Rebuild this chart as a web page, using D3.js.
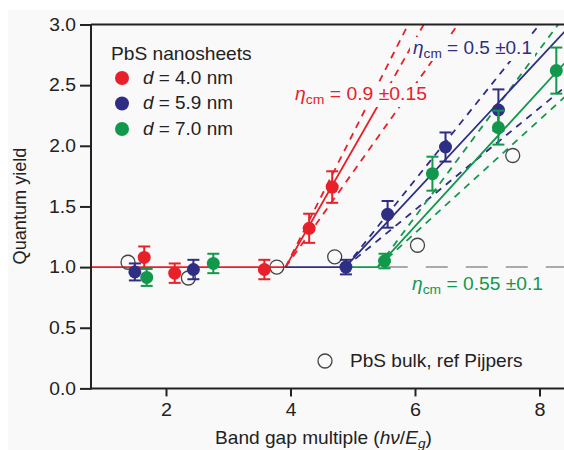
<!DOCTYPE html>
<html><head><meta charset="utf-8">
<script src="https://cdn.jsdelivr.net/npm/d3@7"></script>
<style>
html,body{margin:0;padding:0;background:#fff;}
svg text{font-family:"Liberation Sans",Arial,Helvetica,sans-serif;}
</style></head>
<body><svg id="c" width="564" height="450"></svg>
<script>
// ---- data ----
const xTicks = [2, 4, 6, 8];
const yTicks = [0.0, 0.5, 1.0, 1.5, 2.0, 2.5, 3.0];
const seriesNames = ["d = 4.0 nm", "d = 5.9 nm", "d = 7.0 nm"];
// [band gap multiple, quantum yield, error]
const red4 = [[1.65,1.08,0.09],[2.14,0.95,0.08],[3.58,0.98,0.08],[4.30,1.32,0.12],[4.67,1.66,0.13]];
const blue59 = [[1.50,0.96,0.07],[2.44,0.98,0.08],[4.89,1.00,0.06],[5.56,1.435,0.11],[6.49,1.99,0.12],[7.34,2.295,0.17]];
const green70 = [[1.69,0.915,0.07],[2.76,1.03,0.08],[5.51,1.05,0.06],[6.28,1.77,0.14],[7.34,2.15,0.14],[8.27,2.62,0.19]];
const bulkPijpers = [[1.39,1.04],[2.36,0.91],[3.78,1.00],[4.71,1.085],[6.04,1.18],[7.57,1.92]];
// fit lines (solid) and uncertainty bounds (dashed)
const redFit = [[0.8,1],[3.92,1],[5.47,2.39]];
const blueFit = [[3.92,1],[4.88,1],[8.4,2.94]];
const greenFit = [[4.88,1],[5.40,1],[8.4,2.68]];
const redBounds = [[[3.92,1],[5.89,3.0]], [[3.92,1],[6.69,3.0]], [[5.47,2.39],[6.14,3.0]]];
const blueBounds = [[[4.88,1],[8.0,3.0]], [[4.88,1],[8.4,2.48]]];
const greenBounds = [[[5.40,1],[8.3,3.0]], [[5.40,1],[8.4,2.40]]];
const unityLine = [[5.53,1],[8.4,1]];
const etaLabels = [["0.9","0.15"],["0.5","0.1"],["0.55","0.1"]];

const colors = ["#e8202a", "#2e2e85", "#12984c"];
const FS = "17.5px";
const BG = "#f9f9f9";

const svg = d3.select("#c");
svg.append("rect").attr("x",8).attr("y",10).attr("width",556).attr("height",440).attr("fill",BG);

const x = d3.scaleLinear().domain([0.8, 8.4]).range([91.3, 564.4]);
const y = d3.scaleLinear().domain([0, 3]).range([388.4, 24.5]);
const line = d3.line().x(d=>x(d[0])).y(d=>y(d[1]));

function stretch(sel, target, ax){
  const w = sel.node().getBBox().width;
  const s = target / w;
  sel.attr("transform", `translate(${ax},0) scale(${s},1) translate(${-ax},0)`);
}

const plot = svg.append("g");
svg.append("clipPath").attr("id","clip").append("rect").attr("x",91).attr("y",24.5).attr("width",474).attr("height",364);
const lines = plot.append("g").attr("clip-path","url(#clip)");

lines.append("path").attr("d", line(unityLine)).attr("fill","none").attr("stroke","#aaaaaa").attr("stroke-width",2).attr("stroke-dasharray","22,18");

const fits = [redFit, blueFit, greenFit];
const bounds = [redBounds, blueBounds, greenBounds];
bounds.forEach((b,i)=>{
  b.forEach(seg=>{
    lines.append("path").attr("d", line(seg)).attr("fill","none").attr("stroke",colors[i]).attr("stroke-width",1.8).attr("stroke-dasharray","7,6");
  });
});
fits.forEach((f,i)=>{
  lines.append("path").attr("d", line(f)).attr("fill","none").attr("stroke",colors[i]).attr("stroke-width",1.8);
});

plot.selectAll("circle.bulk").data(bulkPijpers).enter().append("circle")
  .attr("cx",d=>x(d[0])).attr("cy",d=>y(d[1])).attr("r",7)
  .attr("fill","none").attr("stroke","#444").attr("stroke-width",1.3);

[red4, blue59, green70].forEach((data,i)=>{
  const g = plot.append("g");
  data.forEach(d=>{
    const cx = x(d[0]), t = y(d[1]+d[2]), b = y(d[1]-d[2]);
    g.append("line").attr("x1",cx).attr("x2",cx).attr("y1",t).attr("y2",b).attr("stroke",colors[i]).attr("stroke-width",2);
    g.append("line").attr("x1",cx-6).attr("x2",cx+6).attr("y1",t).attr("y2",t).attr("stroke",colors[i]).attr("stroke-width",2);
    g.append("line").attr("x1",cx-6).attr("x2",cx+6).attr("y1",b).attr("y2",b).attr("stroke",colors[i]).attr("stroke-width",2);
    g.append("circle").attr("cx",cx).attr("cy",y(d[1])).attr("r",6.5).attr("fill",colors[i]);
  });
});

// axes
const axColor = "#222";
const yAxis = d3.axisLeft(y).tickValues(yTicks).tickFormat(d3.format(".1f")).tickSize(11).tickPadding(4);
const gy = svg.append("g").attr("transform","translate(91,0)").call(yAxis);
const xAxis = d3.axisBottom(x).tickValues(xTicks).tickFormat(d3.format("d")).tickSize(8).tickPadding(7);
const gx = svg.append("g").attr("transform","translate(0,388.4)").call(xAxis);
[gx, gy].forEach(g=>{
  g.select(".domain").remove();
  g.selectAll(".tick line").attr("stroke",axColor).attr("stroke-width",2);
  g.selectAll(".tick text").attr("fill","#222").style("font-size",FS).style("font-family","'Liberation Sans',Arial,sans-serif");
});
gy.selectAll(".tick text").each(function(){ const t=d3.select(this); stretch(t, 27, +t.attr("x")); });
gx.selectAll(".tick text").each(function(){ const t=d3.select(this); stretch(t, 11, 0); });
svg.append("line").attr("x1",91).attr("x2",91).attr("y1",24.5).attr("y2",389.4).attr("stroke",axColor).attr("stroke-width",2);
svg.append("line").attr("x1",90).attr("x2",564).attr("y1",388.4).attr("y2",388.4).attr("stroke",axColor).attr("stroke-width",2);
svg.append("line").attr("x1",91).attr("x2",564).attr("y1",24.5).attr("y2",24.5).attr("stroke",axColor).attr("stroke-width",2);

// axis titles
const ytg = svg.append("g").attr("transform","translate(26,206) rotate(-90)");
const yt = ytg.append("text").attr("x",0).attr("y",0).attr("text-anchor","middle").style("font-size",FS).attr("fill","#222").text("Quantum yield");
stretch(yt, 117, 0);
const xt = svg.append("text").attr("x",323.5).attr("y",444).attr("text-anchor","middle").style("font-size",FS).attr("fill","#222");
xt.append("tspan").text("Band gap multiple (");
xt.append("tspan").style("font-style","italic").text("hν");
xt.append("tspan").text("/");
xt.append("tspan").style("font-style","italic").text("E");
xt.append("tspan").style("font-style","italic").style("font-size","12.5px").attr("dy",4).text("g");
xt.append("tspan").attr("dy",-4).text(")");
stretch(xt, 217, 323.5);

// legend
const lt = svg.append("text").attr("x",111).attr("y",60).style("font-size",FS).attr("fill","#222").text("PbS nanosheets");
stretch(lt, 141, 111);
seriesNames.forEach((s,i)=>{
  const cy = 78 + i*25.5;
  svg.append("circle").attr("cx",122).attr("cy",cy).attr("r",7).attr("fill",colors[i]);
  const t = svg.append("text").attr("x",143).attr("y",cy+6).style("font-size",FS).attr("fill","#222");
  t.append("tspan").style("font-style","italic").text("d");
  t.append("tspan").text(s.slice(1));
  stretch(t, 90, 143);
});
svg.append("circle").attr("cx",325).attr("cy",361).attr("r",7).attr("fill","none").attr("stroke","#444").attr("stroke-width",1.3);
const bt = svg.append("text").attr("x",350).attr("y",367).style("font-size",FS).attr("fill","#222").text("PbS bulk, ref Pijpers");
stretch(bt, 173, 350);

// eta annotations (with background boxes hiding the lines behind them)
const etaPos = [[295,100,132],[413,54,119],[412,290,131]];
etaLabels.forEach((e,i)=>{
  if (i < 2) {
    svg.append("rect").attr("x",etaPos[i][0]-3).attr("y",etaPos[i][1]-17)
      .attr("width",etaPos[i][2]+6).attr("height",24).attr("fill",BG);
  }
  const t = svg.append("text").attr("x",etaPos[i][0]).attr("y",etaPos[i][1]).style("font-size","18px").attr("fill",colors[i]);
  t.append("tspan").style("font-style","italic").text("η");
  t.append("tspan").style("font-size","13px").attr("dy",4).text("cm");
  t.append("tspan").attr("dy",-4).text(" = " + e[0] + " ±" + e[1]);
  stretch(t, etaPos[i][2], etaPos[i][0]);
});
</script></body></html>
